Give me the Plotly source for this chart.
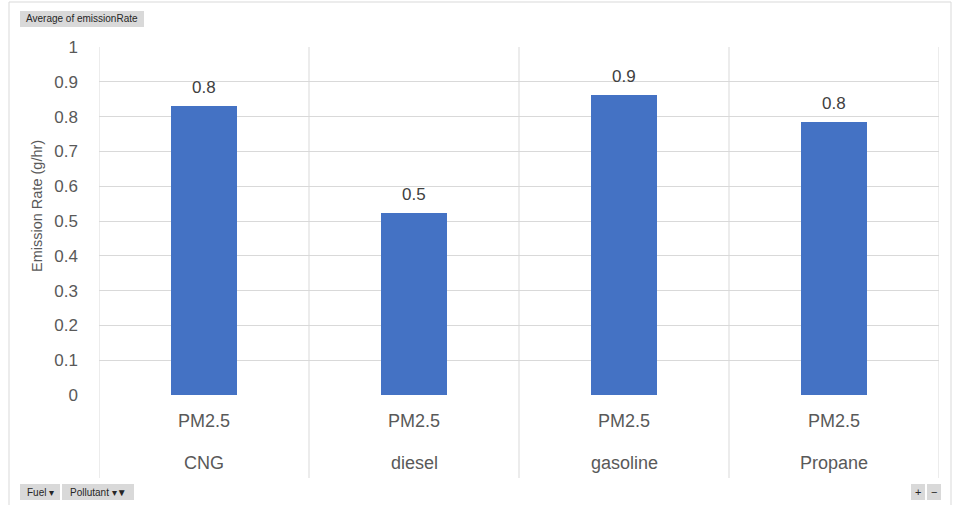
import plotly.graph_objects as go

fuels = ["CNG", "diesel", "gasoline", "Propane"]
pollutants = ["PM2.5", "PM2.5", "PM2.5", "PM2.5"]
emission_rate = [0.830, 0.522, 0.862, 0.784]
y_ticks = [0, 0.1, 0.2, 0.3, 0.4, 0.5, 0.6, 0.7, 0.8, 0.9, 1]
y_tick_labels = ["0", "0.1", "0.2", "0.3", "0.4", "0.5", "0.6", "0.7", "0.8", "0.9", "1"]

W, H = 954, 505
L, R, T, B = 99, 939, 47, 395
PW, PH = R - L, B - T


def px(x):
    return (x - L) / PW


def py(y):
    return (B - y) / PH


FONT = "Liberation Sans"
TXT = "#595959"
GRID = "#d9d9d9"

fig = go.Figure()
fig.add_trace(go.Bar(
    x=list(range(len(fuels))),
    y=emission_rate,
    width=0.314,
    marker=dict(color="#4472C4", line=dict(width=0)),
    hoverinfo="skip",
))

shapes = []
# outer border (bottom edge lies beyond the canvas)
shapes.append(dict(type="rect", xref="paper", yref="paper",
                   x0=px(9), x1=px(951), y0=py(510), y1=py(2),
                   line=dict(color=GRID, width=1), layer="below"))
# category separators / borders
for i in range(len(fuels) + 1):
    shapes.append(dict(type="line", xref="x", yref="paper",
                       x0=i - 0.5, x1=i - 0.5, y0=py(478), y1=1,
                       line=dict(color=GRID, width=1), layer="below"))

annotations = []
# data labels
for i, v in enumerate(emission_rate):
    annotations.append(dict(x=i, y=v, xref="x", yref="y", text=f"{v:.1f}",
                            showarrow=False, xanchor="center", yanchor="middle",
                            yshift=19, font=dict(family=FONT, size=17, color="#404040")))

for i, (f, p) in enumerate(zip(fuels, pollutants)):
    annotations.append(dict(x=i, y=py(421), xref="x", yref="paper", text=p,
                            showarrow=False, xanchor="center", yanchor="middle",
                            font=dict(family=FONT, size=18, color=TXT)))
    annotations.append(dict(x=i, y=py(463), xref="x", yref="paper", text=f,
                            showarrow=False, xanchor="center", yanchor="middle",
                            font=dict(family=FONT, size=18, color=TXT)))

annotations.append(dict(x=px(37), y=py(206), xref="paper", yref="paper",
                        text="Emission Rate (g/hr)", textangle=-90, showarrow=False,
                        xanchor="center", yanchor="middle",
                        font=dict(family=FONT, size=14.5, color=TXT)))


# field buttons
def button(x0, x1, y0, y1, text, size=10):
    shapes.append(dict(type="rect", xref="paper", yref="paper",
                       x0=px(x0), x1=px(x1), y0=py(y1), y1=py(y0),
                       fillcolor="#d9d9d9", line=dict(width=0)))
    annotations.append(dict(x=px((x0 + x1) / 2), y=py((y0 + y1) / 2),
                            xref="paper", yref="paper", text=text, showarrow=False,
                            xanchor="center", yanchor="middle",
                            font=dict(family=FONT, size=size, color="#262626")))


button(20, 144, 11, 27, "Average of emissionRate", 10)
button(20, 60, 484, 500, "Fuel ▾", 10)
button(62, 134, 484, 500, "Pollutant ▾▼", 10)
button(911, 925, 484, 500, "+", 11)
button(927, 941, 484, 500, "−", 11)

fig.update_layout(
    width=W, height=H,
    margin=dict(l=L, r=W - R, t=T, b=H - B, pad=0),
    paper_bgcolor="white", plot_bgcolor="white",
    showlegend=False,
    shapes=shapes,
    annotations=annotations,
    bargap=0,
    xaxis=dict(range=[-0.5, 3.5], showticklabels=False, showgrid=False,
               zeroline=False, showline=False, ticks="", fixedrange=True),
    yaxis=dict(range=[0, 1], tickvals=y_ticks, ticktext=y_tick_labels,
               showgrid=True, gridcolor=GRID, gridwidth=1, zeroline=False,
               showline=False, ticks="", ticklabelstandoff=20,
               tickfont=dict(family=FONT, size=17, color=TXT), fixedrange=True),
)

fig.write_html("out.html", config={"displayModeBar": False},
               post_script="document.body.style.margin='0';document.body.style.padding='0';")
